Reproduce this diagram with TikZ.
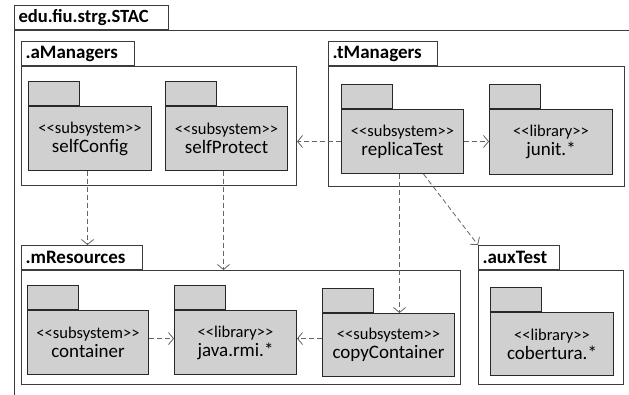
\documentclass[tikz,border=0pt]{standalone}
\usepackage{fontspec}
\setmainfont{Carlito}
\usetikzlibrary{arrows.meta}
\definecolor{pkgfill}{RGB}{208,208,208}
\definecolor{pkgline}{RGB}{40,40,40}
\definecolor{frameline}{RGB}{60,60,60}
\definecolor{depline}{RGB}{100,100,100}
\tikzset{
  pkgbody/.style={draw=pkgline, fill=pkgfill, line width=1pt, anchor=north west, inner sep=0pt, align=center},
  pkgtab/.style={draw=pkgline, fill=pkgfill, line width=1pt, anchor=south west, inner sep=0pt, minimum width=51pt, minimum height=24pt},
  frame/.style={draw=frameline, fill=white, line width=1pt, anchor=north west, inner sep=0pt},
  frametab/.style={draw=frameline, fill=white, line width=1pt, anchor=south west, inner xsep=4pt, inner ysep=0pt, minimum height=24pt, align=left, font=\fontsize{19}{22}\selectfont\bfseries},
  dep/.style={draw=depline, line width=0.8pt, dash pattern=on 5pt off 3pt, -{Straight Barb[length=5pt,width=12pt]}},
}
\newcommand{\pkgtext}[2]{{\fontsize{16.5}{19}\selectfont <{}<#1>{}>}\\[2pt]{\fontsize{19}{21}\selectfont #2}}
\begin{document}
\begin{tikzpicture}[x=1pt,y=-1pt]
\clip (0,0) rectangle (629,394);
\fill[white] (0,0) rectangle (629,394);
% outer frame
\node[frame, minimum width=640pt, minimum height=400pt] (STAC) at (14,30) {};
\node[frametab, text width=146pt, font=\fontsize{18.6}{22}\selectfont\bfseries] (STAC-tab) at (STAC.north west) {edu.fiu.strg.STAC};
% aManagers
\node[frame, minimum width=275pt, minimum height=119pt] (aManagers) at (21,66) {};
\node[frametab, text width=105pt] (aManagers-tab) at (aManagers.north west) {.aManagers};
% tManagers
\node[frame, minimum width=296pt, minimum height=120pt] (tManagers) at (328,66) {};
\node[frametab, text width=101pt] (tManagers-tab) at (tManagers.north west) {.tManagers};
% mResources
\node[frame, minimum width=439pt, minimum height=114pt] (mResources) at (21,270) {};
\node[frametab, text width=113pt] (mResources-tab) at (mResources.north west) {.mResources};
% auxTest
\node[frame, minimum width=145pt, minimum height=114pt] (auxTest) at (478,270) {};
\node[frametab, text width=73pt] (auxTest-tab) at (auxTest.north west) {.auxTest};
% packages
\node[pkgbody, minimum width=123pt, minimum height=64pt] (selfConfig) at (28,106) {\pkgtext{subsystem}{selfConfig}};
\node[pkgtab] (selfConfig-tab) at (selfConfig.north west) {};
\node[pkgbody, minimum width=122pt, minimum height=64pt] (selfProtect) at (165,106) {\pkgtext{subsystem}{selfProtect}};
\node[pkgtab] (selfProtect-tab) at (selfProtect.north west) {};
\node[pkgbody, minimum width=122pt, minimum height=64pt] (replicaTest) at (341,109) {\pkgtext{subsystem}{replicaTest}};
\node[pkgtab] (replicaTest-tab) at (replicaTest.north west) {};
\node[pkgbody, minimum width=123pt, minimum height=65pt] (junit) at (489,109) {\pkgtext{library}{junit.*}};
\node[pkgtab] (junit-tab) at (junit.north west) {};
\node[pkgbody, minimum width=121pt, minimum height=64pt] (container) at (27,310) {\pkgtext{subsystem}{container}};
\node[pkgtab] (container-tab) at (container.north west) {};
\node[pkgbody, minimum width=122pt, minimum height=64pt] (javarmi) at (174,310) {\pkgtext{library}{java.rmi.*}};
\node[pkgtab] (javarmi-tab) at (javarmi.north west) {};
\node[pkgbody, minimum width=132pt, minimum height=63pt] (copyContainer) at (322,313) {\pkgtext{subsystem}{copyContainer}};
\node[pkgtab] (copyContainer-tab) at (copyContainer.north west) {};
\node[pkgbody, minimum width=123pt, minimum height=63pt] (cobertura) at (490,312) {\pkgtext{library}{cobertura.*}};
\node[pkgtab] (cobertura-tab) at (cobertura.north west) {};
% dependencies
\draw[dep] (replicaTest.west) -- (replicaTest.west -| aManagers.east);
\draw[dep] (replicaTest.east) -- (replicaTest.east -| junit.west);
\draw[dep] ([xshift=-3pt]replicaTest.south) -- ([xshift=-3pt]replicaTest.south |- copyContainer.north);
\draw[dep] ([xshift=21pt]replicaTest.south) -- (auxTest-tab.north west);
\draw[dep] ([xshift=-2.5pt]selfConfig.south) -- ([xshift=-2.5pt]selfConfig.south |- mResources-tab.north);
\draw[dep] ([xshift=-3pt]selfProtect.south) -- ([xshift=-3pt]selfProtect.south |- mResources.north);
\draw[dep] ([yshift=4pt]container.east) -- ([yshift=4pt]container.east -| javarmi.west);
\draw[dep] ([yshift=4pt]container.east -| copyContainer.west) -- ([yshift=4pt]javarmi.east);
\end{tikzpicture}
\end{document}
